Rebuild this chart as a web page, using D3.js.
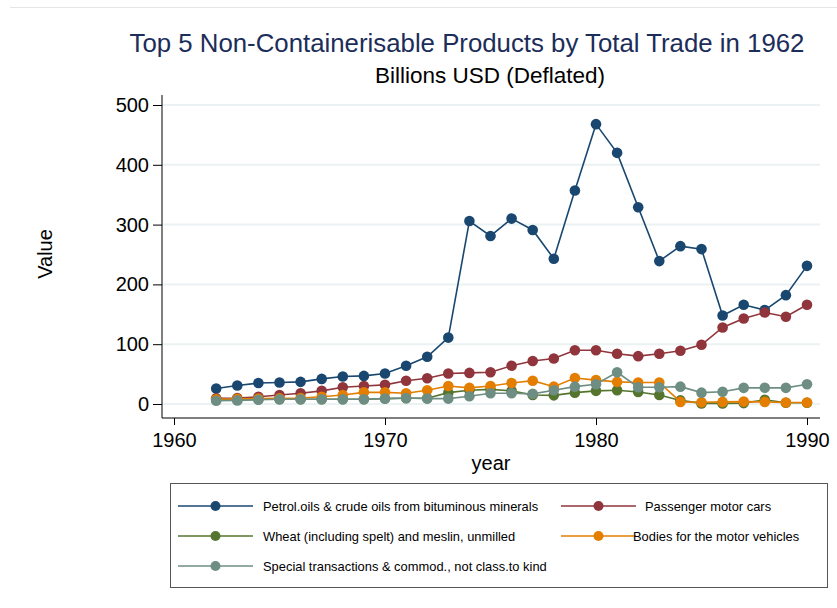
<!DOCTYPE html>
<html>
<head>
<meta charset="utf-8">
<script src="https://cdn.jsdelivr.net/npm/d3@7"></script>
<style>
  body { margin: 0; background: #fff; }
  svg { display: block; font-family: "Liberation Sans", Arial, sans-serif; }
</style>
</head>
<body>
<div id="chart"></div>
<script>
// data (billions USD, deflated)
const years = d3.range(1962, 1991);
const petrol = [26, 31, 35, 36, 37, 42, 46, 47, 51, 64, 79, 111, 306, 281, 310, 291, 243, 357, 468, 420, 329, 239, 264, 259, 148, 166, 157, 182, 231];
const cars = [9.5, 10, 12, 15, 18, 22, 28, 30, 32, 39, 43, 51, 52, 53, 64, 72, 76, 90, 90, 84, 80, 84, 89, 99, 128, 143, 153, 146, 166];
const wheat = [7, 7, 8, 8, 8, 8, 8, 8, 9, 9.5, 9.5, 19, 23, 24.5, 22, 15, 14.5, 19, 22, 23, 20, 15, 6, 1, 1, 1.5, 7, 2, 2];
const bodies = [8, 8.5, 9, 9.5, 10, 12, 15, 19.5, 19.5, 18, 23, 30, 27, 30, 35, 39, 29, 43.5, 40, 37, 36, 36, 3.5, 3, 3.5, 4, 3.5, 2.5, 2.5];
const special = [5.5, 6, 7, 8, 8, 8, 8, 8, 9, 10, 9, 9, 13, 18, 18, 17, 23, 29, 33, 53, 28, 28, 29, 19, 20.5, 27, 27, 27, 33];

const seriesNames = [
  'Petrol.oils & crude oils from bituminous minerals',
  'Passenger motor cars',
  'Wheat (including spelt) and meslin, unmilled',
  'Bodies for the motor vehicles',
  'Special transactions & commod., not class.to kind'
];
const seriesColors = ['#1a476f', '#90353b', '#55752f', '#e37e00', '#6e8e84'];
const seriesValues = [petrol, cars, wheat, bodies, special];

const xTicks = [1960, 1970, 1980, 1990];
const yTicks = [0, 100, 200, 300, 400, 500];

const W = 837, H = 608;
const plot = { left: 162, right: 820, top: 95, bottom: 418 };

const svg = d3.select('#chart').append('svg')
  .attr('width', W)
  .attr('height', H);

svg.append('rect').attr('width', W).attr('height', H).attr('fill', '#fff');

// faint frame line at the top of the image
svg.append('line')
  .attr('x1', 10).attr('x2', W)
  .attr('y1', 7.5).attr('y2', 7.5)
  .attr('stroke', '#e6e6e6').attr('stroke-width', 1);

const x = d3.scaleLinear().domain([1960, 1990]).range([174, 807]);
const y = d3.scaleLinear().domain([0, 500]).range([404, 105]);

// gridlines
svg.append('g')
  .selectAll('line')
  .data(yTicks)
  .enter().append('line')
  .attr('x1', plot.left).attr('x2', plot.right)
  .attr('y1', d => y(d)).attr('y2', d => y(d))
  .attr('stroke', '#eaf2f3')
  .attr('stroke-width', 2);

// y axis
const yAxis = svg.append('g')
  .attr('transform', `translate(${plot.left},0)`)
  .call(d3.axisLeft(y).tickValues(yTicks).tickSize(9).tickPadding(4).tickSizeOuter(0));
yAxis.select('.domain').remove();
yAxis.append('line')
  .attr('x1', 0).attr('x2', 0)
  .attr('y1', plot.top).attr('y2', plot.bottom)
  .attr('stroke', '#000').attr('stroke-width', 1);
yAxis.selectAll('.tick line').attr('stroke', '#000');
yAxis.selectAll('.tick text')
  .attr('font-size', 20).attr('fill', '#000')
  .attr('font-family', '"Liberation Sans", Arial, sans-serif');

// x axis
const xAxis = svg.append('g')
  .attr('transform', `translate(0,${plot.bottom})`)
  .call(d3.axisBottom(x).tickValues(xTicks).tickFormat(d3.format('d')).tickSize(7).tickPadding(8).tickSizeOuter(0));
xAxis.select('.domain').remove();
xAxis.append('line')
  .attr('x1', plot.left).attr('x2', plot.right)
  .attr('y1', 0).attr('y2', 0)
  .attr('stroke', '#000').attr('stroke-width', 1);
xAxis.selectAll('.tick line').attr('stroke', '#000');
xAxis.selectAll('.tick text')
  .attr('font-size', 20).attr('fill', '#000')
  .attr('font-family', '"Liberation Sans", Arial, sans-serif');

// axis titles
svg.append('text')
  .attr('transform', 'translate(52,254) rotate(-90)')
  .attr('text-anchor', 'middle')
  .attr('font-size', 20)
  .text('Value');

svg.append('text')
  .attr('x', 491).attr('y', 470)
  .attr('text-anchor', 'middle')
  .attr('font-size', 20)
  .text('year');

// titles
svg.append('text')
  .attr('x', 467).attr('y', 52)
  .attr('text-anchor', 'middle')
  .attr('font-size', 25.8)
  .attr('fill', '#1c2d5a')
  .text('Top 5 Non-Containerisable Products by Total Trade in 1962');

svg.append('text')
  .attr('x', 490).attr('y', 83)
  .attr('text-anchor', 'middle')
  .attr('font-size', 22.5)
  .attr('fill', '#000')
  .text('Billions USD (Deflated)');

// series
const line = d3.line()
  .x((d, i) => x(years[i]))
  .y(d => y(d));

const seriesG = svg.append('g');
seriesValues.forEach((vals, k) => {
  const g = seriesG.append('g');
  g.append('path')
    .datum(vals)
    .attr('fill', 'none')
    .attr('stroke', seriesColors[k])
    .attr('stroke-width', 1.6)
    .attr('d', line);
  g.selectAll('circle')
    .data(vals)
    .enter().append('circle')
    .attr('cx', (d, i) => x(years[i]))
    .attr('cy', d => y(d))
    .attr('r', 5.3)
    .attr('fill', seriesColors[k]);
});

// legend
const legend = svg.append('g');
legend.append('rect')
  .attr('x', 170.5).attr('y', 483.5)
  .attr('width', 657).attr('height', 104)
  .attr('fill', '#fff')
  .attr('stroke', '#555')
  .attr('stroke-width', 1);

const legendPos = [
  { lx: 178, ty: 506, tx: 263 },
  { lx: 561, ty: 506, tx: 645 },
  { lx: 178, ty: 536, tx: 263 },
  { lx: 561, ty: 536, tx: 633 },
  { lx: 178, ty: 566, tx: 263 }
];

seriesNames.forEach((name, k) => {
  const p = legendPos[k];
  legend.append('line')
    .attr('x1', p.lx).attr('x2', p.lx + 75)
    .attr('y1', p.ty).attr('y2', p.ty)
    .attr('stroke', seriesColors[k])
    .attr('stroke-width', 1.6);
  legend.append('circle')
    .attr('cx', p.lx + 37.5).attr('cy', p.ty)
    .attr('r', 5)
    .attr('fill', seriesColors[k]);
  legend.append('text')
    .attr('x', p.tx).attr('y', p.ty + 4.5)
    .attr('font-size', 12.9)
    .attr('fill', '#000')
    .text(name);
});
</script>
</body>
</html>
